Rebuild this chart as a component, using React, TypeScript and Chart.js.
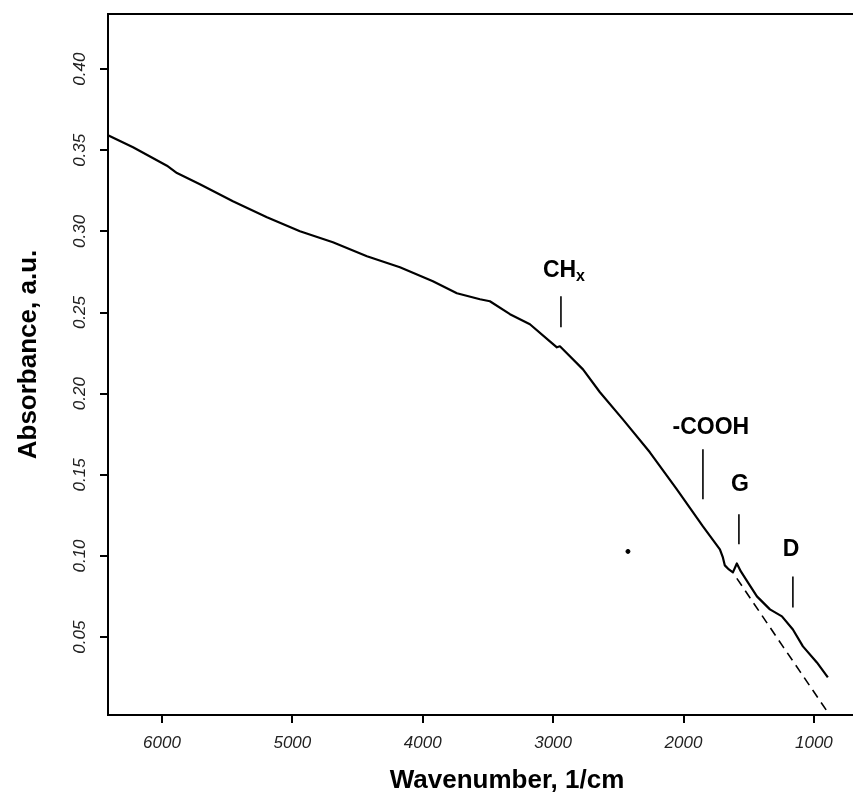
import React, { useEffect, useRef } from "react";
import { Chart, registerables } from "chart.js";

Chart.register(...registerables);

// Measured spectrum (wavenumber in 1/cm, absorbance in a.u.)
const wavenumbers = [6414, 6222, 5962, 5885, 5709, 5456, 5195, 4942, 4689, 4428, 4175, 3922, 3738, 3561, 3485, 3331, 3178, 3025, 2971, 2948, 2925, 2771, 2641, 2465, 2258, 2051, 1851, 1721, 1698, 1683, 1652, 1621, 1591, 1560, 1521, 1437, 1337, 1245, 1161, 1084, 977, 893];
const absorbance = [0.3593, 0.3519, 0.3405, 0.3360, 0.3291, 0.3186, 0.3088, 0.3001, 0.2933, 0.2847, 0.2779, 0.2693, 0.2619, 0.2582, 0.2570, 0.2490, 0.2428, 0.2323, 0.2286, 0.2292, 0.2274, 0.2150, 0.2009, 0.1842, 0.1639, 0.1411, 0.1182, 0.1041, 0.0991, 0.0942, 0.0917, 0.0899, 0.0954, 0.0905, 0.0856, 0.0751, 0.0671, 0.0628, 0.0547, 0.0443, 0.0344, 0.0252];

// Dashed baseline under the G / D bands
const baselineWavenumbers = [1591, 1414, 1238, 1107, 893];
const baselineAbsorbance = [0.0862, 0.0652, 0.0443, 0.0289, 0.0036];

// Stray point in the original figure
const strayWavenumbers = [2426];
const strayAbsorbance = [0.1028];

// Band annotations
const annLabels = ["CH", "-COOH", "G", "D"];
const annSubs = ["x", "", "", ""];
const annLineWn = [2940, 1851, 1575, 1161];
const annLineTop = [0.2600, 0.1657, 0.1257, 0.0874];
const annLineBottom = [0.2409, 0.1349, 0.1072, 0.0683];
const annLabelWn = [2917, 1790, 1567, 1176];
const annLabelY = [0.2718, 0.1750, 0.1398, 0.0998];

// Axes
const xTickValues = [6000, 5000, 4000, 3000, 2000, 1000];
const yTickValues = [0.05, 0.1, 0.15, 0.2, 0.25, 0.3, 0.35, 0.4];
const xMin = 700;
const xMax = 6414;
const yMin = 0.002;
const yMax = 0.434;
const xTitle = "Wavenumber, 1/cm";
const yTitle = "Absorbance, a.u.";

const FONT = '"Liberation Sans", Arial, Helvetica, sans-serif';

const decorPlugin = {
  id: "decor",
  afterDatasetsDraw(chart: any) {
    const { ctx, scales } = chart;
    const x = scales.x;
    const y = scales.y;
    ctx.save();
    ctx.strokeStyle = "#000";
    ctx.fillStyle = "#000";
    ctx.lineWidth = 1.6;
    for (let i = 0; i < annLabels.length; i++) {
      const px = x.getPixelForValue(annLineWn[i]);
      ctx.beginPath();
      ctx.moveTo(px, y.getPixelForValue(annLineTop[i]));
      ctx.lineTo(px, y.getPixelForValue(annLineBottom[i]));
      ctx.stroke();
      const lx = x.getPixelForValue(annLabelWn[i]);
      const ly = y.getPixelForValue(annLabelY[i]);
      ctx.font = `bold 23px ${FONT}`;
      const w1 = ctx.measureText(annLabels[i]).width;
      ctx.font = `bold 16px ${FONT}`;
      const w2 = annSubs[i] ? ctx.measureText(annSubs[i]).width : 0;
      const start = lx - (w1 + w2) / 2;
      ctx.textAlign = "left";
      ctx.textBaseline = "alphabetic";
      ctx.font = `bold 23px ${FONT}`;
      ctx.fillText(annLabels[i], start, ly);
      if (annSubs[i]) {
        ctx.font = `bold 16px ${FONT}`;
        ctx.fillText(annSubs[i], start + w1, ly + 4);
      }
    }
    ctx.restore();
  },
  afterDraw(chart: any) {
    const { ctx, chartArea, scales } = chart;
    const y = scales.y;
    ctx.save();
    ctx.strokeStyle = "#000";
    ctx.lineWidth = 2;
    ctx.beginPath();
    ctx.moveTo(chartArea.left - 1, chartArea.top);
    ctx.lineTo(chartArea.right, chartArea.top);
    ctx.stroke();
    ctx.fillStyle = "#222";
    ctx.font = `italic 17px ${FONT}`;
    ctx.textAlign = "center";
    ctx.textBaseline = "alphabetic";
    for (const v of yTickValues) {
      const py = y.getPixelForValue(v);
      ctx.save();
      ctx.translate(chartArea.left - 23, py);
      ctx.rotate(-Math.PI / 2);
      ctx.fillText(v.toFixed(2), 0, 0);
      ctx.restore();
    }
    ctx.fillStyle = "#000";
    ctx.font = `bold 26px ${FONT}`;
    ctx.textAlign = "center";
    ctx.fillText(xTitle, chartArea.left + 399, chartArea.bottom + 73);
    ctx.save();
    ctx.translate(chartArea.left - 72, (chartArea.top + chartArea.bottom) / 2 - 10);
    ctx.rotate(-Math.PI / 2);
    ctx.fillText(yTitle, 0, 0);
    ctx.restore();
    ctx.restore();
  },
};

export default function App() {
  const ref = useRef<HTMLCanvasElement | null>(null);
  useEffect(() => {
    if (!ref.current) return;
    const chart = new Chart(ref.current, {
      type: "line",
      data: {
        datasets: [
          {
            label: "spectrum",
            data: wavenumbers.map((w, i) => ({ x: w, y: absorbance[i] })),
            borderColor: "#000",
            borderWidth: 2.2,
            pointRadius: 0,
            pointHoverRadius: 0,
            tension: 0,
            borderJoinStyle: "round",
          },
          {
            label: "baseline",
            data: baselineWavenumbers.map((w, i) => ({ x: w, y: baselineAbsorbance[i] })),
            borderColor: "#000",
            borderWidth: 1.6,
            borderDash: [9, 6],
            pointRadius: 0,
            pointHoverRadius: 0,
            tension: 0,
          },
          {
            label: "stray",
            data: strayWavenumbers.map((w, i) => ({ x: w, y: strayAbsorbance[i] })),
            showLine: false,
            pointRadius: 2,
            pointHoverRadius: 2,
            pointBackgroundColor: "#000",
            pointBorderColor: "#000",
          },
        ],
      },
      options: {
        animation: false,
        responsive: false,
        layout: { autoPadding: false, padding: { top: 14, right: 0, left: 0, bottom: 0 } },
        plugins: { legend: { display: false }, tooltip: { enabled: false }, title: { display: false } },
        scales: {
          x: {
            type: "linear",
            reverse: true,
            min: xMin,
            max: xMax,
            afterBuildTicks: (s: any) => {
              s.ticks = xTickValues.map((v) => ({ value: v }));
            },
            afterFit: (s: any) => {
              s.height = 79;
              s.paddingLeft = 0;
              s.paddingRight = 0;
            },
            ticks: {
              color: "#222",
              font: { family: FONT, size: 17, style: "italic" },
              padding: 10,
              maxRotation: 0,
              autoSkip: false,
              callback: (v: any) => String(v),
            },
            grid: { drawOnChartArea: false, color: "#000", lineWidth: 2, tickLength: 8 },
            border: { display: true, color: "#000", width: 2 },
          },
          y: {
            type: "linear",
            min: yMin,
            max: yMax,
            afterBuildTicks: (s: any) => {
              s.ticks = yTickValues.map((v) => ({ value: v }));
            },
            afterFit: (s: any) => {
              s.width = 108;
            },
            ticks: { display: false },
            grid: { drawOnChartArea: false, color: "#000", lineWidth: 2, tickLength: 8 },
            border: { display: true, color: "#000", width: 2 },
          },
        },
      },
      plugins: [decorPlugin],
    } as any);
    return () => chart.destroy();
  }, []);
  return (
    <div style={{ position: "absolute", left: 0, top: 0, width: 853, height: 794, background: "#fff" }}>
      <canvas ref={ref} width={853} height={794} style={{ width: 853, height: 794, display: "block" }} />
    </div>
  );
}
